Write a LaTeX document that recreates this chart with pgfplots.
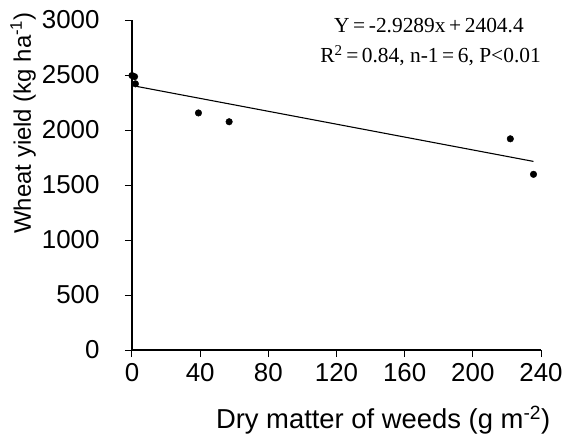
\documentclass[border=0pt]{standalone}
\usepackage{pgfplots}
\pgfplotsset{compat=1.18}
\usetikzlibrary{calc}
\usepackage{fontspec}
\setmainfont{Liberation Sans}
\newfontfamily\timesfont{Liberation Serif}
\begin{document}
\begin{tikzpicture}
\path[use as bounding box] (-132bp,-88bp) rectangle (436bp,350bp);
\begin{axis}[
  at={(0,0)}, anchor=south west,
  scale only axis, width=409bp, height=330bp,
  xmin=0, xmax=240, ymin=0, ymax=3000,
  axis lines=left, axis line style={-, line width=1.2pt},
  tick align=outside, major tick length=7bp,
  tick style={black, line width=1pt},
  xtick={0,40,80,120,160,200,240},
  ytick={0,500,1000,1500,2000,2500,3000},
  /pgf/number format/assume math mode=true,
  /pgf/number format/set thousands separator={},
  ticklabel style={font=\fontsize{26}{30}\selectfont},
  yticklabel style={xshift=-22bp},
  xticklabel style={yshift=-3bp},
  xlabel={Dry matter of weeds (g m\textsuperscript{-2})},
  xlabel style={font=\fontsize{27.5}{32}\selectfont, at={(rel axis cs:0.614,0)}, anchor=center, yshift=-70bp},
  ylabel={Wheat yield (kg ha\textsuperscript{-1})},
  ylabel style={font=\fontsize{24}{28}\selectfont, at={($(rel axis cs:0,0.688)+(-109bp,0)$)}, anchor=center},
  clip=false,
]
\addplot[only marks, mark=*, mark size=3.3bp, black] coordinates {
  (0,2495) (1.5,2485) (2,2420) (39,2155) (57,2075) (222,1920) (235.6,1597)
};
\addplot[black, line width=1.1pt] coordinates {(1.5,2400.0) (235.6,1714.4)};
\node[anchor=base east, font=\timesfont\fontsize{21.5}{24}\selectfont, inner sep=0pt]
  at (axis cs:230,2885) {Y\,=\,-2.9289x\,+\,2404.4};
\node[anchor=base east, font=\timesfont\fontsize{21.5}{24}\selectfont, inner sep=0pt]
  at (axis cs:240,2612) {R\textsuperscript{2}\,=\,0.84, n-1\,=\,6, P<0.01};
\end{axis}
\end{tikzpicture}
\end{document}
